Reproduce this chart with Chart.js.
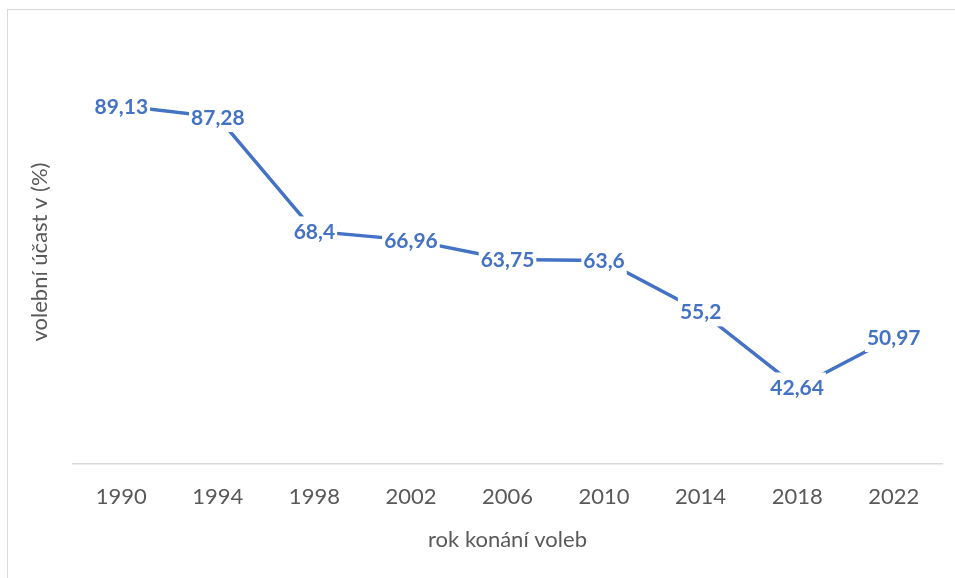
<!DOCTYPE html>
<html>
<head>
<meta charset="utf-8">
<script src="https://cdn.jsdelivr.net/npm/chart.js@4"></script>
<style>
html,body{margin:0;padding:0;background:#fff;overflow:hidden;}
#wrap{position:relative;width:955px;height:578px;}
#frame{position:absolute;left:7px;top:9px;width:1000px;height:1000px;border-left:1px solid #d9d9d9;border-top:1px solid #d9d9d9;}
canvas{position:absolute;left:0;top:0;}
</style>
</head>
<body>
<div id="wrap"><div id="frame"></div><canvas id="c" width="955" height="578"></canvas></div>
<script>
const years = ['1990','1994','1998','2002','2006','2010','2014','2018','2022'];
const turnout = [89.13, 87.28, 68.4, 66.96, 63.75, 63.6, 55.2, 42.64, 50.97];
const xTitle = 'rok konání voleb';
const yTitle = 'volební účast v (%)';

const BLUE = '#4472C4';
const FONT = 'Lato, "Open Sans", sans-serif';

const labelPlugin = {
  id: 'valueLabels',
  afterDatasetsDraw(chart) {
    const ctx = chart.ctx;
    const meta = chart.getDatasetMeta(0);
    ctx.save();
    ctx.font = 'bold 21px ' + FONT;
    ctx.textAlign = 'center';
    ctx.textBaseline = 'middle';
    meta.data.forEach((pt, i) => {
      const txt = String(turnout[i]).replace('.', ',');
      const w = ctx.measureText(txt).width;
      ctx.fillStyle = '#fff';
      ctx.fillRect(pt.x - w / 2 - 2, pt.y - 15, w + 4, 30);
      ctx.fillStyle = BLUE;
      ctx.fillText(txt, pt.x, pt.y + 1);
    });
    ctx.restore();
  }
};

new Chart(document.getElementById('c'), {
  type: 'line',
  data: {
    labels: years,
    datasets: [{
      data: turnout,
      borderColor: BLUE,
      borderWidth: 3.5,
      pointRadius: 0,
      tension: 0,
      fill: false
    }]
  },
  options: {
    responsive: false,
    animation: false,
    layout: { padding: { left: 0, right: 13, top: 40, bottom: 0 } },
    plugins: { legend: { display: false }, tooltip: { enabled: false } },
    scales: {
      x: {
        type: 'category',
        offset: true,
        grid: { display: false, drawTicks: false },
        border: { display: true, color: '#d9d9d9', width: 1.5 },
        ticks: { color: '#595959', font: { family: FONT, size: 22 }, padding: 20, maxRotation: 0, autoSkip: false },
        title: { display: true, text: xTitle, color: '#595959', font: { family: FONT, size: 22 }, padding: { top: 0, bottom: 25 } },
        afterFit(s) { s.height = 578 - 464; }
      },
      y: {
        min: 30, max: 100,
        grid: { display: false, drawTicks: false },
        border: { display: false },
        ticks: { display: false },
        title: { display: true, text: yTitle, color: '#595959', font: { family: FONT, size: 22 }, padding: { top: 27, bottom: 0 } },
        afterFit(s) { s.width = 73; }
      }
    }
  },
  plugins: [labelPlugin]
});
</script>
</body>
</html>
